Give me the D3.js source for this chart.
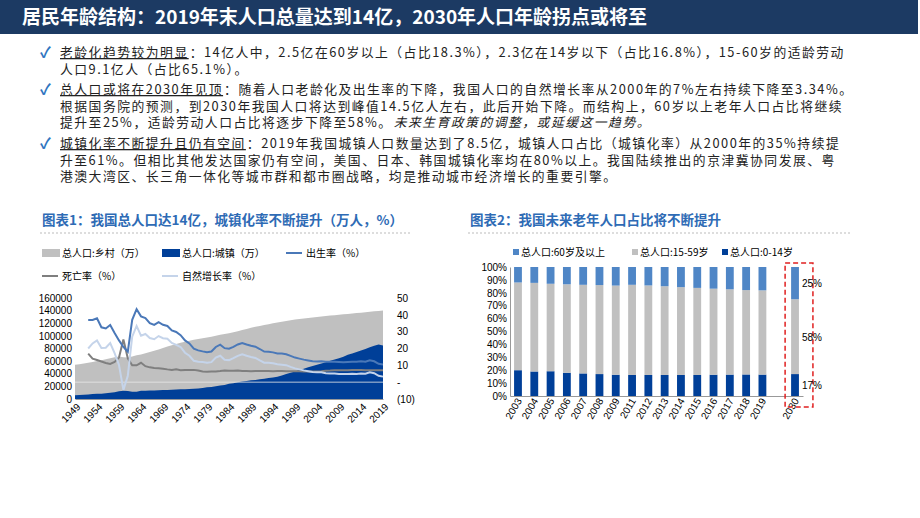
<!DOCTYPE html>
<html><head><meta charset="utf-8">
<script src="https://cdn.jsdelivr.net/npm/d3@7"></script>
<style>body{margin:0;background:#fff;font-family:"Noto Sans CJK SC","Liberation Sans",sans-serif}</style>
</head><body><svg id="c" width="920" height="518"></svg>
<script>
// ---- data ----
const years = d3.range(1949, 2020);
const totalPop = [54167,55196,56300,57482,58796,60266,61465,62828,64653,65994,67207,66207,65859,67295,69172,70499,72538,74542,76368,78534,80671,82992,85229,87177,89211,90859,92420,93717,94974,96259,97542,98705,100072,101654,103008,104357,105851,107507,109300,111026,112704,114333,115823,117171,118517,119850,121121,122389,123626,124761,125786,126743,127627,128453,129227,129988,130756,131448,132129,132802,133450,134091,134735,135404,136072,136782,137462,138271,139008,139538,140005];
const urbanPop = [5765,6169,6632,7163,7826,8249,8285,8963,9949,10721,12371,13073,12707,11659,11646,12950,13045,13313,13548,13838,14117,14424,14711,14935,15345,15595,16030,16341,16669,17245,18495,19140,20171,21480,22274,24017,25094,26366,27674,28661,29540,30195,31203,32175,33173,34169,35174,37304,39449,41608,43748,45906,48064,50212,52376,54283,56212,58288,60633,62403,64512,66978,69927,72175,74502,76738,79302,81924,84343,86433,84843];
const rateYears = d3.range(1952, 2020);
const birthRate = [37.0,37.0,38.0,32.6,31.9,34.0,29.2,24.8,20.9,18.1,37.0,43.4,39.1,38.1,35.1,34.0,35.6,34.1,33.4,30.7,29.8,27.9,24.8,23.0,19.9,18.9,18.3,17.8,18.2,20.9,22.3,20.2,19.9,21.0,22.4,23.3,22.4,21.6,21.1,19.7,18.2,18.1,17.7,17.1,17.0,16.6,15.6,14.6,14.0,13.4,12.9,12.4,12.3,12.4,12.1,12.1,12.1,12.0,11.9,12.0,12.1,12.1,12.4,12.1,13.0,12.4,10.9,10.5];
const deathRate = [17.0,14.0,13.2,12.3,11.4,10.8,12.0,14.6,25.4,14.2,10.0,10.0,11.5,9.5,8.8,8.4,8.2,8.0,7.6,7.3,7.6,7.1,7.3,7.3,7.3,6.9,6.3,6.2,6.3,6.4,6.6,6.9,6.8,6.8,6.9,6.7,6.6,6.5,6.7,6.7,6.6,6.6,6.5,6.6,6.6,6.5,6.5,6.5,6.5,6.4,6.4,6.4,6.4,6.5,6.8,6.9,7.1,7.1,7.1,7.1,7.2,7.2,7.2,7.1,7.1,7.1,7.1,7.1];
const growthRate = [20.0,23.0,24.8,20.3,20.5,23.2,17.2,10.2,-4.6,3.8,27.0,33.4,27.6,28.6,26.2,25.5,27.4,26.1,25.8,23.3,22.2,20.9,17.5,15.7,12.7,12.1,12.0,11.6,11.9,14.6,15.7,13.3,13.1,14.3,15.6,16.6,15.7,15.0,14.4,13.0,11.6,11.5,11.2,10.6,10.4,10.1,9.1,8.2,7.6,7.0,6.5,6.0,5.9,5.9,5.3,5.2,5.1,4.9,4.8,4.8,5.0,4.9,5.2,5.0,5.9,5.3,3.8,3.3];
const xTickYears = [1949,1954,1959,1964,1969,1974,1979,1984,1989,1994,1999,2004,2009,2014,2019];
const leftTicks = [0,20000,40000,60000,80000,100000,120000,140000,160000];
const rightTicks = [-10,0,10,20,30,40,50];
const ageCats = ["2003","2004","2005","2006","2007","2008","2009","2011","2012","2013","2014","2015","2016","2017","2018","2019","","2030"];
const age0_14 = [20.0,19.0,19.2,18.0,17.5,17.0,16.5,16.3,16.3,16.3,16.3,16.3,16.5,16.6,16.7,16.6,null,17];
const age60 = [12.0,12.3,13.0,13.4,13.8,14.0,14.4,13.8,14.3,14.9,15.6,16.2,16.8,17.3,17.9,18.1,null,25];
const yPctTicks = [0,10,20,30,40,50,60,70,80,90,100];

const svg = d3.select("#c");
const F = "'Noto Sans CJK SC',sans-serif";
// ---- header ----
svg.append("rect").attr("x",0).attr("y",0).attr("width",918).attr("height",34).attr("fill","#1c3a63");
svg.append("text").attr("x",22).attr("y",24).attr("fill","#fff").attr("font-size",19).attr("font-weight","bold").attr("font-family",F)
  .text("居民年龄结构：2019年末人口总量达到14亿，2030年人口年龄拐点或将至");
const paras = [
 {y:57, lines:[[["老龄化趋势较为明显","u"],["：14亿人中，2.5亿在60岁以上（占比18.3%），2.3亿在14岁以下（占比16.8%），15-60岁的适龄劳动",""]],[["人口9.1亿人（占比65.1%）。",""]]]},
 {y:94, lines:[[["总人口或将在2030年见顶","u"],["：随着人口老龄化及出生率的下降，我国人口的自然增长率从2000年的7%左右持续下降至3.34%。",""]],[["根据国务院的预测，到2030年我国人口将达到峰值14.5亿人左右，此后开始下降。而结构上，60岁以上老年人口占比将继续",""]],[["提升至25%，适龄劳动人口占比将逐步下降至58%。",""],["未来生育政策的调整，或延缓这一趋势。","i"]]]},
 {y:148, lines:[[["城镇化率不断提升且仍有空间","u"],["：2019年我国城镇人口数量达到了8.5亿，城镇人口占比（城镇化率）从2000年的35%持续提",""]],[["升至61%。但相比其他发达国家仍有空间，美国、日本、韩国城镇化率均在80%以上。我国陆续推出的京津冀协同发展、粤",""]],[["港澳大湾区、长三角一体化等城市群和都市圈战略，均是推动城市经济增长的重要引擎。",""]]]}
];
paras.forEach(p=>{
  svg.append("text").attr("x",40).attr("y",p.y+1).attr("fill","#2e74c0").attr("font-size",15).attr("font-weight","bold").text("✓");
  p.lines.forEach((ln,i)=>{
    let x = 60;
    ln.forEach(s=>{
      const t = svg.append("text").attr("x",x).attr("y",p.y+i*16.5).attr("font-size",12.8).attr("fill","#222")
        .attr("font-family",F).attr("letter-spacing","1.5px").text(s[0]);
      if(s[1]==="u") t.attr("text-decoration","underline");
      if(s[1]==="i") t.attr("font-style","italic");
      x += t.node().getComputedTextLength() + 1;
    });
  });
});
// chart titles
svg.append("text").attr("x",42).attr("y",225).attr("fill","#2e6bb5").attr("font-size",13.5).attr("font-weight","bold").attr("font-family",F).text("图表1：我国总人口达14亿，城镇化率不断提升（万人，%）");
svg.append("text").attr("x",470).attr("y",225).attr("fill","#2e6bb5").attr("font-size",13.5).attr("font-weight","bold").attr("font-family",F).text("图表2：我国未来老年人口占比将不断提升");
[[40,412],[468,850]].forEach(([a,b])=>svg.append("line").attr("x1",a).attr("x2",b).attr("y1",233).attr("y2",233).attr("stroke","#bbb").attr("stroke-dasharray","2,2"));

// ---- chart 1 ----
const g1 = svg.append("g").attr("font-family",F);
const x1 = d3.scaleLinear().domain([1949,2019]).range([75,383]);
const yL = d3.scaleLinear().domain([0,160000]).range([399,298]);
const yR = d3.scaleLinear().domain([-10,50]).range([399,298]);
const popData = years.map((y,i)=>({y,t:totalPop[i],u:urbanPop[i]}));
g1.append("path").datum(popData).attr("fill","#c0c0c0").attr("d",d3.area().x(d=>x1(d.y)).y0(yL(0)).y1(d=>yL(d.t)));
g1.append("path").datum(popData).attr("fill","#003f98").attr("d",d3.area().x(d=>x1(d.y)).y0(yL(0)).y1(d=>yL(d.u)));
g1.append("line").attr("x1",75).attr("x2",383).attr("y1",yR(0)).attr("y2",yR(0)).attr("stroke","#e8e8e8").attr("stroke-width",0.8);
const lineR = d3.line().x(d=>x1(d[0])).y(d=>yR(d[1]));
[[deathRate,"#7f7f7f"],[growthRate,"#c5d4ea"],[birthRate,"#4a78b8"]].forEach(([arr,c])=>{
  g1.append("path").datum(rateYears.map((y,i)=>[y,arr[i]])).attr("fill","none").attr("stroke",c).attr("stroke-width",2).attr("d",lineR);
});
const axL = g1.append("g").attr("transform","translate(75,0)").call(d3.axisLeft(yL).tickValues(leftTicks).tickFormat(d3.format("d")).tickSize(0).tickPadding(3));
axL.select(".domain").remove(); axL.selectAll("text").attr("font-size",10).attr("font-family","Liberation Sans").attr("fill","#000");
const axR = g1.append("g").attr("transform","translate(383,0)").call(d3.axisRight(yR).tickValues(rightTicks).tickSize(0).tickPadding(14)
  .tickFormat(v=>v<0?"("+(-v)+")":v===0?"-":v));
axR.select(".domain").remove(); axR.selectAll("text").attr("font-size",10).attr("font-family","Liberation Sans").attr("fill","#000");
const axX = g1.append("g").attr("transform","translate(0,399)").call(d3.axisBottom(x1).tickValues(xTickYears).tickFormat(d3.format("d")).tickSize(0).tickPadding(4));
axX.select(".domain").attr("stroke","#999");
axX.selectAll("text").attr("font-size",10).attr("font-family","Liberation Sans").attr("fill","#000")
  .attr("text-anchor","end").attr("transform","rotate(-45)").attr("dx","-2").attr("dy","6");
// legend 1
const L1=[{t:"总人口:乡村（万）",c:"#c0c0c0",k:"r",x:42,y:255},{t:"总人口:城镇（万）",c:"#003f98",k:"r",x:162,y:255},{t:"出生率（%）",c:"#4a78b8",k:"l",x:286,y:255},
 {t:"死亡率（%）",c:"#7f7f7f",k:"l",x:42,y:278},{t:"自然增长率（%）",c:"#c5d4ea",k:"l",x:162,y:278}];
L1.forEach(d=>{
  if(d.k==="r") g1.append("rect").attr("x",d.x).attr("y",d.y-6).attr("width",18).attr("height",8).attr("fill",d.c);
  else g1.append("line").attr("x1",d.x).attr("x2",d.x+16).attr("y1",d.y-2).attr("y2",d.y-2).attr("stroke",d.c).attr("stroke-width",2);
  g1.append("text").attr("x",d.x+20).attr("y",d.y+2).attr("font-size",10).text(d.t);
});

// ---- chart 2 ----
const g2 = svg.append("g").attr("font-family",F);
const x2 = d3.scaleBand().domain(ageCats).range([510,803]).paddingInner(0.52).paddingOuter(0.25);
const y2 = d3.scaleLinear().domain([0,100]).range([396,267]);
ageCats.forEach((c,i)=>{
  if(age0_14[i]==null) return;
  const a=age0_14[i], o=age60[i], m=100-a-o;
  const segs=[[0,a,"#003f98"],[a,a+m,"#c0c0c0"],[a+m,100,"#4f86c6"]];
  segs.forEach(s=>g2.append("rect").attr("x",x2(c)).attr("width",x2.bandwidth()).attr("y",y2(s[1])).attr("height",y2(s[0])-y2(s[1])).attr("fill",s[2]));
});
const ay2 = g2.append("g").attr("transform","translate(510,0)").call(d3.axisLeft(y2).tickValues(yPctTicks).tickFormat(d=>d+"%").tickSize(0).tickPadding(3));
ay2.select(".domain").attr("stroke","#999"); ay2.selectAll("text").attr("font-size",10).attr("font-family","Liberation Sans").attr("fill","#000");
const ax2 = g2.append("g").attr("transform","translate(0,396)").call(d3.axisBottom(x2).tickSize(0).tickPadding(4));
ax2.select(".domain").attr("stroke","#999");
ax2.selectAll("text").attr("font-size",10).attr("font-family","Liberation Sans").attr("fill","#000")
  .attr("text-anchor","end").attr("transform","rotate(-60)").attr("dx","-2").attr("dy","2");
// 2030 annotations
const i30 = ageCats.indexOf("2030");
const bx = x2("2030");
g2.append("rect").attr("x",bx-6).attr("y",y2(100)-4).attr("width",x2.bandwidth()+20).attr("height",y2(0)-y2(100)+15)
  .attr("fill","none").attr("stroke","#e02020").attr("stroke-width",1.5).attr("stroke-dasharray","5,3");
const a30=age0_14[i30], o30=age60[i30], m30=100-a30-o30;
[[100-o30/2,o30],[a30+m30/2,m30],[a30/2,a30]].forEach(([pos,v])=>
  g2.append("text").attr("x",bx+x2.bandwidth()+3).attr("y",y2(pos)+4).attr("font-size",10).attr("font-family","Liberation Sans").text(v+"%"));
const L2=[{t:"总人口:60岁及以上",c:"#4f86c6",x:513},{t:"总人口:15-59岁",c:"#c0c0c0",x:632},{t:"总人口:0-14岁",c:"#003f98",x:722}];
L2.forEach(d=>{
  g2.append("rect").attr("x",d.x).attr("y",249).attr("width",6).attr("height",6).attr("fill",d.c);
  g2.append("text").attr("x",d.x+8).attr("y",256).attr("font-size",10).text(d.t);
});
</script></body></html>
